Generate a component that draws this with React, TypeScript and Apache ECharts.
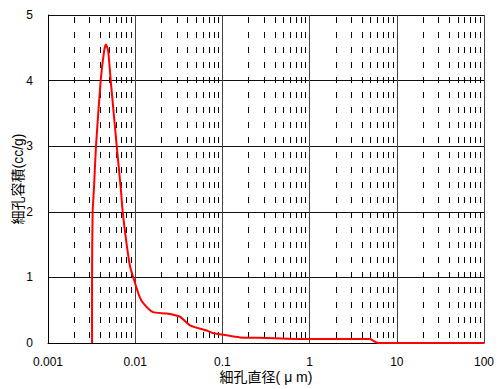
import React, { useEffect, useRef } from "react";
import * as echarts from "echarts";

const xTickLabels = ["0.001", "0.01", "0.1", "1", "10", "100"];
const yTickLabels = ["0", "1", "2", "3", "4", "5"];

const poreDiameter = [
  0.0032, 0.0032, 0.00325, 0.00337, 0.00355, 0.00402, 0.0044, 0.00462, 0.0049,
  0.00524, 0.00614, 0.00682, 0.00719, 0.00799, 0.00872, 0.00951, 0.0111,
  0.0125, 0.016, 0.023, 0.0326, 0.0425, 0.066, 0.078, 0.093, 0.16, 0.27, 1,
  4.9, 6.1, 100,
];
const poreVolume = [
  0, 1.0, 2.0, 2.37, 3.0, 4.0, 4.45, 4.55, 4.45, 4.0, 3.0, 2.37, 2.0, 1.5,
  1.17, 1.0, 0.72, 0.6, 0.47, 0.45, 0.4, 0.27, 0.19, 0.15, 0.135, 0.085, 0.08,
  0.06, 0.06, 0.0, 0.0,
];

const decades = [0.001, 0.01, 0.1, 1, 10];
const minorMultipliers = [2, 3, 4, 5, 6, 7, 8, 9];
const yMin = 0;
const yMax = 5;

const FONT = "'Liberation Sans', Arial, 'Noto Sans CJK JP', sans-serif";

export default function App() {
  const ref = useRef<HTMLDivElement>(null);
  useEffect(() => {
    if (!ref.current) return;
    const chart = echarts.init(ref.current, undefined, { renderer: "svg" });
    const minorLines: any[] = [];
    decades.forEach((d) =>
      minorMultipliers.forEach((m) => {
        const x = parseFloat((d * m).toPrecision(3));
        minorLines.push([{ coord: [x, yMax] }, { coord: [x, yMin] }]);
      })
    );
    const series = poreDiameter.map((x, i) => [x, poreVolume[i]]);
    chart.setOption({
      animation: false,
      backgroundColor: "#fff",
      grid: { left: 48, right: 14, top: 15, bottom: 41 },
      xAxis: {
        type: "log",
        logBase: 10,
        min: 0.001,
        max: 100,
        name: "細孔直径( μ m)",
        nameLocation: "middle",
        nameGap: 27,
        nameMoveOverlap: false,
        nameTextStyle: { color: "#000", fontSize: 14, fontFamily: FONT },
        axisLine: { show: true, onZero: false, lineStyle: { color: "#000", width: 1 } },
        axisTick: { show: false },
        axisLabel: {
          color: "#000",
          fontSize: 12,
          fontFamily: FONT,
          margin: 13,
          formatter: (v: number) => {
            const idx = Math.round(Math.log10(v)) + 3;
            return xTickLabels[idx] ?? "";
          },
        },
        splitLine: { show: true, lineStyle: { color: "#444", width: 1 } },
      },
      yAxis: {
        type: "value",
        min: yMin,
        max: yMax,
        interval: 1,
        name: "細孔容積(cc/g)",
        nameLocation: "middle",
        nameGap: 23,
        nameMoveOverlap: false,
        nameTextStyle: { color: "#000", fontSize: 14, fontFamily: FONT },
        axisLine: { show: true, lineStyle: { color: "#000", width: 1 } },
        axisTick: { show: false },
        axisLabel: {
          color: "#000",
          fontSize: 12,
          fontFamily: FONT,
          margin: 15,
          formatter: (v: number) => yTickLabels[Math.round(v)] ?? "",
        },
        splitLine: { show: true, lineStyle: { color: "#111", width: 1 } },
      },
      series: [
        {
          type: "line",
          data: series,
          z: 5,
          showSymbol: false,
          smooth: 0.2,
          lineStyle: { color: "#ff0000", width: 2 },
          itemStyle: { color: "#ff0000" },
          markLine: {
            silent: true,
            z: 1,
            symbol: ["none", "none"],
            label: { show: false },
            lineStyle: { color: "#000", width: 1, type: [6, 9], dashOffset: 13 },
            emphasis: { disabled: true },
            data: minorLines,
          },
        },
      ],
    });
    return () => chart.dispose();
  }, []);
  return <div ref={ref} style={{ width: 498, height: 389, position: "absolute", left: 0, top: 0 }} />;
}
